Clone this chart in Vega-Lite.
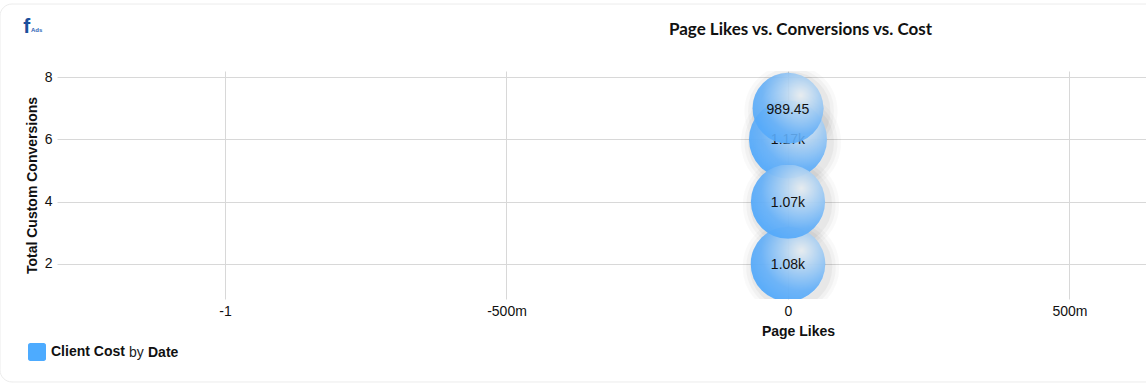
{"$schema":"https://vega.github.io/schema/vega-lite/v6.json","width":1089,"height":228,"autosize":"none","padding":{"left":57,"top":71,"right":0,"bottom":85},"background":"white",
"config":{"view":{"stroke":null},"font":"Liberation Sans"},
"title":{"text":"Page Likes vs. Conversions vs. Cost","font":"Lato","fontSize":17,"fontWeight":"bold","color":"#111111","frame":"group","anchor":"middle","dx":199,"offset":-35},
"data":{"values":[{"date":"A","likes":0,"conversions":2,"cost":1080,"label":"1.08k"},{"date":"B","likes":0,"conversions":6,"cost":1170,"label":"1.17k"},{"date":"C","likes":0,"conversions":7,"cost":989.45,"label":"989.45"},{"date":"D","likes":0,"conversions":4,"cost":1070,"label":"1.07k"}]},
"layer":[
{"data":{"values":[{"t":"card"}]},"mark":{"type":"rect","fill":null,"stroke":"#ececec","strokeWidth":1,"cornerRadius":12},"encoding":{"x":{"datum":-1.3996,"type":"quantitative","scale":{"domain":[-1.2984,0.6359],"nice":false,"zero":false},"title":null},"x2":{"datum":0.66},"y":{"datum":10.347,"type":"quantitative","scale":{"domain":[0.876,8.196],"nice":false,"zero":false},"title":null},"y2":{"datum":-1.788}}},
{"encoding":{
"x":{"field":"likes","type":"quantitative","title":"Page Likes","scale":{"domain":[-1.2984,0.6359],"nice":false,"zero":false},"axis":{"values":[-1,-0.5,0,0.5],"labelExpr":"datum.value===0?'0':datum.value===-1?'-1':datum.value===-0.5?'-500m':'500m'","grid":true,"gridColor":"#d8d8d8","domain":false,"ticks":false,"labelFontSize":14,"labelColor":"#111111","labelPadding":5,"titleFontSize":14,"titleFontWeight":"bold","titleColor":"#111111","titleX":741,"titleY":36,"titleBaseline":"alphabetic"}},
"y":{"field":"conversions","type":"quantitative","title":"Total Custom Conversions","scale":{"domain":[0.876,8.196],"nice":false,"zero":false},"axis":{"values":[2,4,6,8],"grid":true,"gridColor":"#d8d8d8","domain":false,"ticks":false,"labelFontSize":14,"labelColor":"#111111","labelPadding":5,"titleFontSize":14,"titleFontWeight":"bold","titleColor":"#111111","titleX":-18,"titleY":114}},
"size":{"field":"cost","type":"quantitative","legend":null,"scale":{"domain":[989.45,1170],"range":[5041,6084],"zero":false}}
},
"layer":[
{"mark":{"type":"circle","clip":true,"opacity":0,"filled":true},"encoding":{"size":{"value":324},"color":{"datum":"Client Cost","scale":{"range":["#4dabff"]},"legend":{"orient":"none","legendX":-29,"legendY":272,"title":null,"symbolType":"M-0.75,-1H0.75A0.25,0.25 0 0 1 1,-0.75V0.75A0.25,0.25 0 0 1 0.75,1H-0.75A0.25,0.25 0 0 1 -1,0.75V-0.75A0.25,0.25 0 0 1 -0.75,-1Z","symbolSize":324,"symbolOpacity":1,"symbolStrokeWidth":0,"symbolFillColor":"#4dabff","labelFontSize":14,"labelFontWeight":"bold","labelColor":"#111111","labelOffset":5}}}},
{"mark":{"type":"circle","clip":true,"filled":false,"stroke":"#000000","strokeOpacity":0.03,"strokeWidth":22,"xOffset":3,"yOffset":3}},
{"mark":{"type":"circle","clip":true,"filled":false,"stroke":"#000000","strokeOpacity":0.04,"strokeWidth":15,"xOffset":3,"yOffset":3}},
{"mark":{"type":"circle","clip":true,"filled":false,"stroke":"#000000","strokeOpacity":0.05,"strokeWidth":8,"xOffset":3,"yOffset":3}},
{"transform":[{"filter":"datum.date==='A'"}],"mark":{"type":"circle","clip":true,"opacity":0.95,"fill":{"gradient":"radial","x1":0.68,"y1":0.32,"r1":0,"x2":0.68,"y2":0.32,"r2":0.72,"stops":[{"offset":0,"color":"#e6ebee"},{"offset":0.35,"color":"#a9cff2"},{"offset":0.75,"color":"#66b0f7"},{"offset":1,"color":"#55aafa"}]}}},
{"transform":[{"filter":"datum.date==='A'"}],"mark":{"type":"text","fontSize":14,"color":"#111111","dy":1},"encoding":{"text":{"field":"label"},"size":{"value":14}}},
{"transform":[{"filter":"datum.date==='B'"}],"mark":{"type":"circle","clip":true,"opacity":0.95,"fill":{"gradient":"radial","x1":0.68,"y1":0.32,"r1":0,"x2":0.68,"y2":0.32,"r2":0.72,"stops":[{"offset":0,"color":"#e6ebee"},{"offset":0.35,"color":"#a9cff2"},{"offset":0.75,"color":"#66b0f7"},{"offset":1,"color":"#55aafa"}]}}},
{"transform":[{"filter":"datum.date==='B'"}],"mark":{"type":"text","fontSize":14,"color":"#111111","dy":1},"encoding":{"text":{"field":"label"},"size":{"value":14}}},
{"transform":[{"filter":"datum.date==='C'"}],"mark":{"type":"circle","clip":true,"opacity":0.9,"fill":{"gradient":"radial","x1":0.68,"y1":0.32,"r1":0,"x2":0.68,"y2":0.32,"r2":0.72,"stops":[{"offset":0,"color":"#e6ebee"},{"offset":0.35,"color":"#a9cff2"},{"offset":0.75,"color":"#66b0f7"},{"offset":1,"color":"#55aafa"}]}}},
{"transform":[{"filter":"datum.date==='C'"}],"mark":{"type":"text","fontSize":14,"color":"#111111","dy":2},"encoding":{"text":{"field":"label"},"size":{"value":14}}},
{"transform":[{"filter":"datum.date==='D'"}],"mark":{"type":"circle","clip":true,"opacity":0.95,"fill":{"gradient":"radial","x1":0.68,"y1":0.32,"r1":0,"x2":0.68,"y2":0.32,"r2":0.72,"stops":[{"offset":0,"color":"#e6ebee"},{"offset":0.35,"color":"#a9cff2"},{"offset":0.75,"color":"#66b0f7"},{"offset":1,"color":"#55aafa"}]}}},
{"transform":[{"filter":"datum.date==='D'"}],"mark":{"type":"text","fontSize":14,"color":"#111111","dy":1},"encoding":{"text":{"field":"label"},"size":{"value":14}}}
]},
{"data":{"values":[{"t":"by"}]},"mark":{"type":"text","align":"left","baseline":"alphabetic","fontSize":14,"color":"#222222"},"encoding":{"x":{"datum":-1.1705,"type":"quantitative"},"y":{"datum":-0.986,"type":"quantitative"},"text":{"field":"t"}}},
{"data":{"values":[{"t":"Date"}]},"mark":{"type":"text","align":"left","baseline":"alphabetic","fontSize":14,"fontWeight":"bold","color":"#111111"},"encoding":{"x":{"datum":-1.1368,"type":"quantitative"},"y":{"datum":-0.986,"type":"quantitative"},"text":{"field":"t"}}},
{"data":{"values":[{"t":"f"}]},"mark":{"type":"text","align":"center","baseline":"alphabetic","fontSize":21,"fontWeight":"bold","color":"#1b4f9c"},"encoding":{"x":{"datum":-1.352,"type":"quantitative"},"y":{"datum":9.416,"type":"quantitative"},"text":{"field":"t"}}},
{"data":{"values":[{"t":"Ads"}]},"mark":{"type":"text","align":"left","baseline":"alphabetic","fontSize":6,"fontWeight":"bold","color":"#2b62b5"},"encoding":{"x":{"datum":-1.3446,"type":"quantitative"},"y":{"datum":9.448,"type":"quantitative"},"text":{"field":"t"}}}
]}
